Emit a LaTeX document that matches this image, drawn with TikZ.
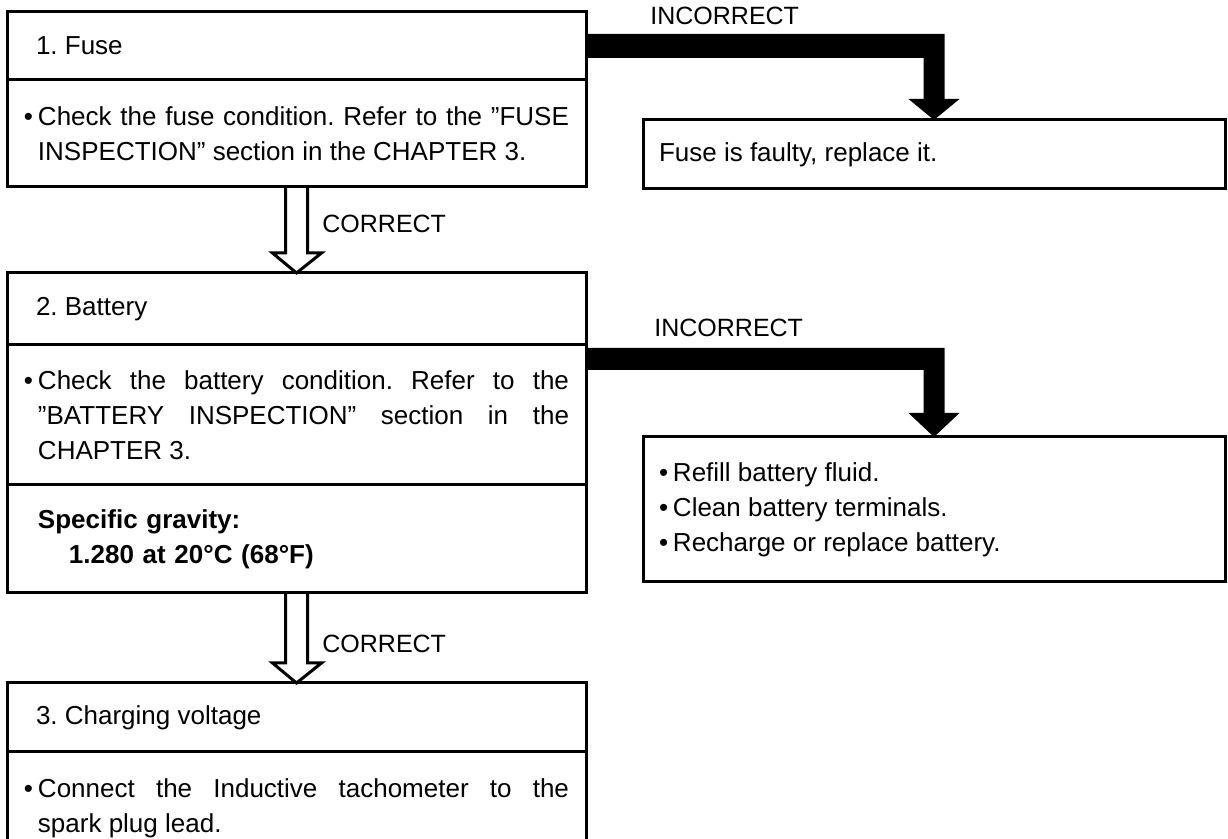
\documentclass[tikz,border=0pt]{standalone}
\usepackage{fontspec}
\setmainfont{Liberation Sans}
\usetikzlibrary{positioning, calc}
\frenchspacing
\newcommand{\bodyfont}{\fontsize{13}{17.5}\selectfont\frenchspacing}
\newcommand{\bul}[1]{\hangindent=7pt\hangafter=1\noindent\makebox[7pt][l]{\textbullet}#1\par}
\tikzset{
    part/.style={draw=black, line width=1.5pt, outer sep=0pt, inner xsep=0pt, inner ysep=0pt,
                 minimum width=289.5pt, text width=272.5pt, align=justify, font=\bodyfont},
    fixbox/.style={part, minimum width=291pt, text width=275pt},
    lbl/.style={font=\fontsize{12.5}{15}\selectfont, inner sep=0pt, anchor=base west},
    nogo/.style={fill=black},
    goon/.style={draw=black, line width=1.5pt, line join=miter}
}

\begin{document}
\begin{tikzpicture}[x=0.5pt, y=-0.5pt]
  \useasboundingbox (0,0) rectangle (1228,839);

  % left column
  \node[part, minimum height=34pt, anchor=north west] (fusehead) at (7,12) {\hspace*{6pt}1. Fuse};
  \node[part, minimum height=53.5pt, below=0pt of fusehead] (fusebody)
    {\bul{Check the fuse condition. Refer to the ''FUSE\linebreak INSPECTION'' section in the CHAPTER 3.}};

  \node[part, minimum height=36pt, anchor=north west] (batthead) at (7,273) {\hspace*{6pt}2. Battery};
  \node[part, minimum height=70pt, below=0pt of batthead] (battbody)
    {\bul{Check the battery condition. Refer to the\linebreak ''BATTERY INSPECTION'' section in the\linebreak CHAPTER 3.}};
  \node[part, minimum height=54pt, below=0pt of battbody, align=left] (battspec)
    {\bfseries\hspace*{7pt}Specific gravity:\\\hspace*{22.5pt}1.280 at 20°C (68°F)};

  \node[part, minimum height=34.5pt, anchor=north west] (charghead) at (7,683) {\hspace*{6pt}3. Charging voltage};
  \node[part, minimum height=56pt, below=0pt of charghead] (chargbody)
    {\bul{Connect the Inductive tachometer to the\linebreak spark plug lead.}};

  % right column
  \node[fixbox, minimum height=34.5pt, anchor=north west] (fusefix) at (643,120) {Fuse is faulty, replace it.};
  \node[fixbox, minimum height=72.5pt, anchor=north west] (battfix) at (643,437)
    {\bul{Refill battery fluid.}\bul{Clean battery terminals.}\bul{Recharge or replace battery.}};

  \node[lbl] (miss1) at (650,25) {INCORRECT};
  \node[lbl] (miss2) at (654,337) {INCORRECT};
  \node[lbl] (ok1) at (322,233) {CORRECT};
  \node[lbl] (ok2) at (322,653) {CORRECT};

  % correct: hollow arrows
  \draw[goon] ($(fusebody.south)+(-11,0)$) -- ($(batthead.north)+(-11,-20)$) -- ++(-13,0)
    -- (batthead.north) -- ++(25,-20) -- ++(-14,0) -- ($(fusebody.south)+(11,0)$);
  \draw[goon] ($(battspec.south)+(-11,0)$) -- ($(charghead.north)+(-11,-20)$) -- ++(-13,0)
    -- (charghead.north) -- ++(25,-20) -- ++(-14,0) -- ($(battspec.south)+(11,0)$);

  % incorrect: black arrows
  \fill[nogo] ($(fusehead.east)+(0,-12)$) -- ($(fusehead.east -| fusefix.north)+(10.5,-12)$)
    -- ($(fusefix.north)+(10.5,-21)$) -- ++(15,0) -- (fusefix.north) -- ++(-25.5,-21) -- ++(15,0)
    |- ($(fusehead.east)+(0,12)$) -- cycle;
  \fill[nogo] ($(battbody.north east)+(0,3)$) -- ($(battbody.north east -| battfix.north)+(10.5,3)$)
    -- ($(battfix.north)+(10.5,-24)$) -- ++(15,0) -- (battfix.north) -- ++(-25.5,-24) -- ++(15,0)
    |- ($(battbody.north east)+(0,25)$) -- cycle;
\end{tikzpicture}
\end{document}
